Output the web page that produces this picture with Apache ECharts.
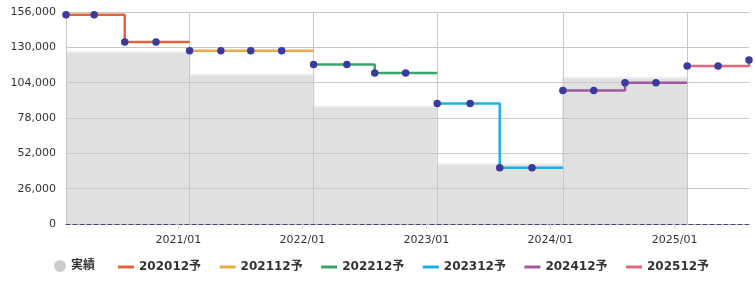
<!DOCTYPE html>
<html><head><meta charset="utf-8">
<script src="https://cdn.jsdelivr.net/npm/echarts@6/dist/echarts.min.js"></script>
<style>html,body{margin:0;padding:0;background:#fff}#c{width:756px;height:281px}</style>
</head><body><div id="c"></div>
<script>
// ---- data ----
const actualName = '実績';
const periodStarts = ['2020-02-05','2021-02-03','2022-02-03','2023-02-02','2024-02-07','2025-02-07'];
const actualValues = [126400, 109700, 86200, 44000, 107700];

const forecastNames = ['202012予','202112予','202212予','202312予','202412予','202512予'];

const fc202012Dates = ['2020-02-05','2020-04-28','2020-07-27','2020-10-27'];
const fc202012Values = [154000, 154000, 134000, 134000];
const fc202112Dates = ['2021-02-03','2021-05-06','2021-08-02','2021-11-01'];
const fc202112Values = [127500, 127500, 127500, 127500];
const fc202212Dates = ['2022-02-03','2022-05-12','2022-08-02','2022-11-01'];
const fc202212Values = [117300, 117300, 111200, 111200];
const fc202312Dates = ['2023-02-02','2023-05-10','2023-08-05','2023-11-08'];
const fc202312Values = [88600, 88600, 41400, 41400];
const fc202412Dates = ['2024-02-07','2024-05-08','2024-08-08','2024-11-07'];
const fc202412Values = [98200, 98200, 104000, 104000];
const fc202512Dates = ['2025-02-07','2025-05-09','2025-08-08'];
const fc202512Values = [116300, 116300, 120700];

const yMin = 0, yMax = 156000, yStep = 26000;

// ---- styles ----
const forecastColors = ['#e2643e','#ebaa4e','#36a66a','#17b3e6','#9b5b9d','#e2687c'];
const dotColor = '#3d3a9c';
const gridColor = '#c8c8c8';
const font = "'DejaVu Sans','Noto Sans CJK JP',sans-serif";

const fcDates = [fc202012Dates, fc202112Dates, fc202212Dates, fc202312Dates, fc202412Dates, fc202512Dates];
const fcValues = [fc202012Values, fc202112Values, fc202212Values, fc202312Values, fc202412Values, fc202512Values];

const actualData = periodStarts.map((d, i) => [d, actualValues[Math.min(i, actualValues.length - 1)]]);

const series = [{
  name: actualName, type: 'line', step: 'end', z: 0,
  data: actualData, showSymbol: false, symbol: 'none',
  lineStyle: { color: '#ececec', width: 2 },
  itemStyle: { color: '#cccccc' },
  areaStyle: { color: '#e0e0e0', opacity: 1 },
  silent: true, animation: false,
  markLine: {
    z: 1, silent: true, symbol: ['none', 'none'], animation: false,
    label: { show: false },
    lineStyle: { color: gridColor, width: 1, type: 'solid' },
    data: periodStarts.map(d => ({ xAxis: d }))
  }
}];

forecastNames.forEach((name, i) => {
  const dates = fcDates[i], vals = fcValues[i];
  const data = dates.map((d, j) => [d, vals[j]]);
  if (i < forecastNames.length - 1) {
    data.push({ value: [fcDates[i + 1][0], vals[vals.length - 1]], symbol: 'none' });
  }
  series.push({
    name, type: 'line', step: 'end', z: 2, data,
    symbol: 'circle', symbolSize: 7.5, showAllSymbol: true,
    itemStyle: { color: dotColor },
    lineStyle: { color: forecastColors[i], width: 2.5 },
    animation: false, silent: true
  });
});

const allDates = fcDates.flat().map(d => +new Date(d));
const legendText = { fontSize: 12, fontWeight: 'bold', color: '#333', fontFamily: font, lineHeight: 14 };

const chart = echarts.init(document.getElementById('c'));
chart.setOption({
  animation: false,
  grid: { left: 66, right: 7, top: 12, bottom: 57, containLabel: false },
  legend: [
    { data: [{ name: actualName, icon: 'circle', itemStyle: { color: '#cccccc' } }],
      left: 54, top: 259, padding: 0, itemWidth: 12, itemHeight: 15, textStyle: legendText, selectedMode: false },
    { data: forecastNames.map((n, i) => ({ name: n, icon: 'rect', itemStyle: { color: forecastColors[i] } })),
      left: 118, top: 260, padding: 0, itemWidth: 16, itemHeight: 3, itemGap: 18.5, textStyle: legendText, selectedMode: false }
  ],
  xAxis: {
    type: 'time', z: 1,
    min: Math.min(...allDates), max: Math.max(...allDates),
    splitLine: { show: false },
    axisLine: { show: true, lineStyle: { color: '#553d7d', width: 1, type: [4, 3] } },
    axisTick: { show: true, length: 5, lineStyle: { color: '#ccd6eb' } },
    axisLabel: { formatter: '{yyyy}/{MM}', color: '#333', fontSize: 11, fontFamily: font,
                 margin: 11, showMinLabel: false, showMaxLabel: false, fontWeight: 'normal' }
  },
  yAxis: {
    type: 'value', z: 1, min: yMin, max: yMax, interval: yStep,
    axisLine: { show: false }, axisTick: { show: false },
    splitLine: { show: true, lineStyle: { color: gridColor, width: 1 } },
    axisLabel: { color: '#333', fontSize: 11, fontFamily: font, margin: 10,
                 formatter: v => v.toLocaleString('en-US') }
  },
  series
});
</script></body></html>
